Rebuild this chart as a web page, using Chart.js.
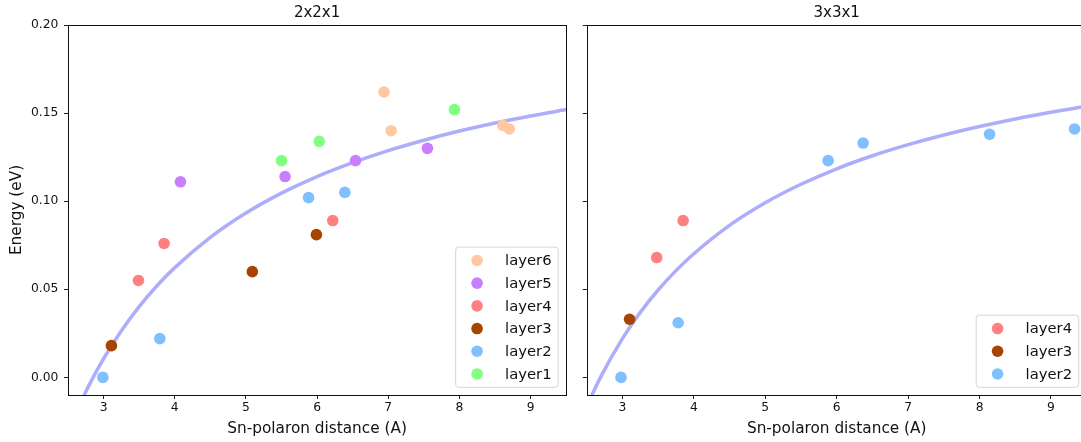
<!DOCTYPE html>
<html>
<head>
<meta charset="utf-8">
<script src="https://cdn.jsdelivr.net/npm/chart.js@4"></script>
<style>
  html, body { margin: 0; padding: 0; background: #fff; overflow: hidden; width: 1081px; height: 442px; }
  canvas { position: absolute; top: 0; }
  #chart221 { left: 0; }
  #chart331 { left: 575px; }
</style>
</head>
<body>
<canvas id="chart221" width="572" height="442"></canvas>
<canvas id="chart331" width="521" height="442"></canvas>
<script>
// --- data: Sn-polaron distance (A) vs energy (eV) ---

const distTicks = [3, 4, 5, 6, 7, 8, 9];
const energyTicks = [0, 0.05, 0.10, 0.15, 0.20];

// 2x2x1 supercell
const d221_layer6 = [6.94, 7.04, 8.61, 8.70];
const e221_layer6 = [0.162, 0.140, 0.143, 0.141];
const d221_layer5 = [4.08, 5.55, 6.54, 7.55];
const e221_layer5 = [0.111, 0.114, 0.123, 0.130];
const d221_layer4 = [3.49, 3.85, 6.22];
const e221_layer4 = [0.055, 0.076, 0.089];
const d221_layer3 = [3.11, 5.09, 5.99];
const e221_layer3 = [0.018, 0.060, 0.081];
const d221_layer2 = [2.99, 3.79, 5.88, 6.39];
const e221_layer2 = [0.000, 0.022, 0.102, 0.105];
const d221_layer1 = [5.50, 6.03, 7.93];
const e221_layer1 = [0.123, 0.134, 0.152];

// fitted curve, 2x2x1
const fitD221 = [2.65, 2.8, 3.0, 3.25, 3.5, 3.75, 4.0, 4.5, 5.0, 5.5, 6.0, 6.5, 7.0, 7.5, 8.0, 8.5, 9.0, 9.5];
const fitE221 = [-0.0167, -0.0041, 0.0106, 0.0265, 0.0402, 0.0520, 0.0623, 0.0795, 0.0933, 0.1046, 0.1140, 0.1219, 0.1287, 0.1346, 0.1398, 0.1444, 0.1484, 0.1520];

// 3x3x1 supercell
const d331_layer4 = [3.48, 3.85];
const e331_layer4 = [0.068, 0.089];
const d331_layer3 = [3.10];
const e331_layer3 = [0.033];
const d331_layer2 = [2.98, 3.78, 5.88, 6.37, 8.14, 9.33];
const e331_layer2 = [0.000, 0.031, 0.123, 0.133, 0.138, 0.141];

// fitted curve, 3x3x1
const fitD331 = [2.55, 2.7, 3.0, 3.25, 3.5, 3.75, 4.0, 4.5, 5.0, 5.5, 6.0, 6.5, 7.0, 7.5, 8.0, 8.5, 9.0, 9.5];
const fitE331 = [-0.0120, 0.0006, 0.0220, 0.0369, 0.0496, 0.0606, 0.0702, 0.0863, 0.0991, 0.1096, 0.1184, 0.1258, 0.1321, 0.1376, 0.1424, 0.1467, 0.1505, 0.1539];

// --- styles ---

const FONT = '"DejaVu Sans", sans-serif';
const TEXT = '#111';
const layerColors = {
    layer6: '#ffc8a0',
    layer5: '#c97dff',
    layer4: '#ff8080',
    layer3: '#a84300',
    layer2: '#80c0ff',
    layer1: '#80ff80'
};
const FIT_COLOR = '#adadfc';
const MARKER_R = 5.8;

const zip = (xs, ys) => xs.map((x, i) => ({ x: x, y: ys[i] }));

// Box around the plot area (all four spines), snapped to whole pixels
const framePlugin = {
    id: 'frame',
    afterDatasetsDraw(chart) {
        const { ctx, chartArea: a } = chart;
        const l = Math.round(a.left) + 0.5, t = Math.round(a.top) + 0.5;
        const r = Math.round(a.right) + 0.5, b = Math.round(a.bottom) + 0.5;
        ctx.save();
        ctx.strokeStyle = '#111';
        ctx.lineWidth = 1;
        ctx.strokeRect(l, t, r - l, b - t);
        ctx.restore();
    }
};

// Title centred over the plot area
const panelTitlePlugin = {
    id: 'panelTitle',
    afterDraw(chart, args, opts) {
        const { ctx, chartArea: a } = chart;
        ctx.save();
        ctx.font = '15px ' + FONT;
        ctx.fillStyle = TEXT;
        ctx.textAlign = 'center';
        ctx.textBaseline = 'alphabetic';
        ctx.fillText(opts.text, (a.left + a.right) / 2, a.top - 7.7);
        ctx.restore();
    }
};

// Legend box in the lower right corner of the plot area
const cornerLegendPlugin = {
    id: 'cornerLegend',
    afterDraw(chart) {
        const { ctx, chartArea: a } = chart;
        const items = chart.data.datasets.filter(ds => !ds.showLine);
        const rowH = 22.7;
        ctx.save();
        ctx.font = '14.8px ' + FONT;
        const textW = Math.max(...items.map(ds => ctx.measureText(ds.label).width));
        const w = 49.4 + textW + 6.6;
        const h = items.length * rowH + 4;
        const right = a.right - 8;
        const bottom = a.bottom - 7.7;
        const left = right - w;
        const top = bottom - h;

        ctx.beginPath();
        ctx.roundRect(left, top, w, h, 3);
        ctx.fillStyle = 'rgba(255,255,255,0.8)';
        ctx.fill();
        ctx.strokeStyle = '#d5d5d5';
        ctx.lineWidth = 1;
        ctx.stroke();

        items.forEach((ds, i) => {
            const cy = top + 2 + rowH * i + rowH / 2;
            ctx.beginPath();
            ctx.arc(left + 21.4, cy, MARKER_R, 0, Math.PI * 2);
            ctx.fillStyle = ds.backgroundColor;
            ctx.fill();
            ctx.fillStyle = TEXT;
            ctx.textAlign = 'left';
            ctx.textBaseline = 'middle';
            ctx.fillText(ds.label, left + 49.4, cy + 1);
        });
        ctx.restore();
    }
};

function layerSet(label, xs, ys) {
    return {
        label: label,
        data: zip(xs, ys),
        backgroundColor: layerColors[label],
        pointRadius: MARKER_R,
        pointHoverRadius: MARKER_R,
        pointBorderWidth: 0,
        order: 0
    };
}

function fitSet(xs, ys) {
    return {
        label: 'fit',
        data: zip(xs, ys),
        showLine: true,
        borderColor: FIT_COLOR,
        borderWidth: 3.5,
        pointRadius: 0,
        cubicInterpolationMode: 'monotone',
        clip: 0,
        order: 10
    };
}

function buildPanel(canvasId, title, datasets, opts) {
    const ctx = document.getElementById(canvasId).getContext('2d');
    return new Chart(ctx, {
        type: 'scatter',
        data: { datasets: datasets },
        plugins: [framePlugin, panelTitlePlugin, cornerLegendPlugin],
        options: {
            responsive: false,
            devicePixelRatio: 1,
            animation: false,
            events: [],
            layout: { padding: { top: 25, right: opts.padRight, bottom: 0, left: 0 } },
            plugins: {
                legend: { display: false },
                tooltip: { enabled: false },
                panelTitle: { text: title }
            },
            scales: {
                x: {
                    type: 'linear',
                    min: 2.5,
                    max: 9.5,
                    afterBuildTicks: s => { s.ticks = distTicks.map(v => ({ value: v })); },
                    afterFit: s => { s.height = 47; },
                    grid: { drawOnChartArea: false, tickLength: 4, tickColor: '#222' },
                    border: { display: false },
                    ticks: { padding: 1, color: TEXT, font: { family: FONT, size: 12.3 }, callback: v => String(v) },
                    title: {
                        display: true,
                        text: 'Sn-polaron distance (A)',
                        color: TEXT,
                        font: { family: FONT, size: 15.3 },
                        padding: { top: 0, bottom: 3.8 }
                    }
                },
                y: {
                    type: 'linear',
                    min: -0.01,
                    max: 0.2,
                    afterBuildTicks: s => { s.ticks = energyTicks.map(v => ({ value: v })); },
                    afterFit: s => { s.width = opts.yWidth; },
                    grid: { drawOnChartArea: false, tickLength: 4, tickColor: '#222' },
                    border: { display: false },
                    ticks: {
                        display: opts.yLabels,
                        padding: 5.7,
                        color: TEXT,
                        font: { family: FONT, size: 12.3 },
                        callback: v => v.toFixed(2)
                    },
                    title: {
                        display: opts.yLabels,
                        text: 'Energy (eV)',
                        color: TEXT,
                        font: { family: FONT, size: 15.3 },
                        padding: { top: 8.3, bottom: 0 }
                    }
                }
            }
        }
    });
}

buildPanel('chart221', '2x2x1', [
    layerSet('layer6', d221_layer6, e221_layer6),
    layerSet('layer5', d221_layer5, e221_layer5),
    layerSet('layer4', d221_layer4, e221_layer4),
    layerSet('layer3', d221_layer3, e221_layer3),
    layerSet('layer2', d221_layer2, e221_layer2),
    layerSet('layer1', d221_layer1, e221_layer1),
    fitSet(fitD221, fitE221)
], { yWidth: 68, padRight: 4, yLabels: true });

buildPanel('chart331', '3x3x1', [
    layerSet('layer4', d331_layer4, e331_layer4),
    layerSet('layer3', d331_layer3, e331_layer3),
    layerSet('layer2', d331_layer2, e331_layer2),
    fitSet(fitD331, fitE331)
], { yWidth: 11.7, padRight: 9.3, yLabels: false });
</script>
</body>
</html>
